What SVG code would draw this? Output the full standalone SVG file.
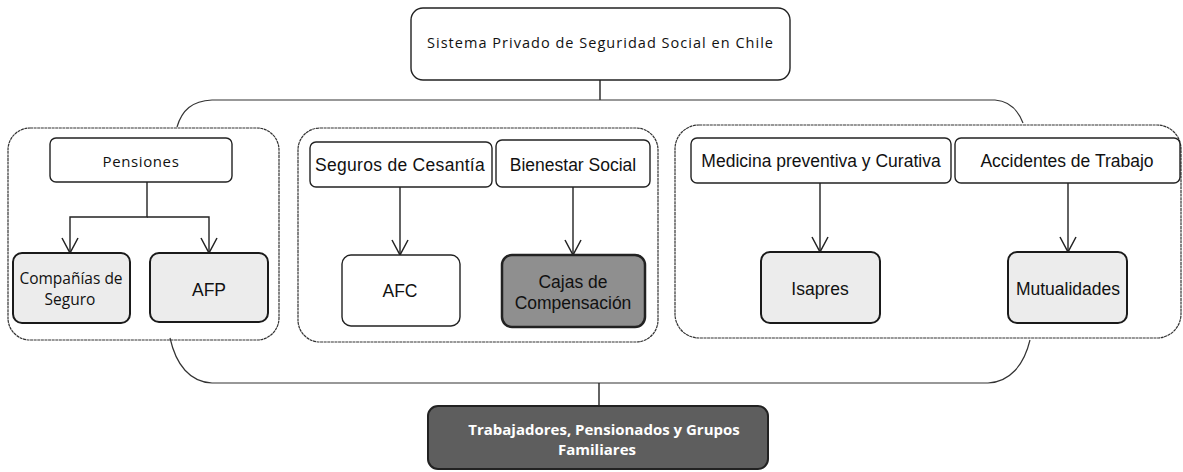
<svg xmlns="http://www.w3.org/2000/svg" width="1183" height="472" viewBox="0 0 1183 472">
<defs>
<style>
.box{fill:#fff;stroke:#222;stroke-width:1.4}
.grp{fill:#fff;stroke:#333;stroke-width:1.2;stroke-dasharray:3 0.6}
.leaf{fill:#ececec;stroke:#1a1a1a;stroke-width:2}
.dark{fill:#8f8f8f;stroke:#222;stroke-width:2.5}
.bot{fill:#5e5e5e;stroke:#222;stroke-width:2}
.ar{font-family:"Liberation Sans",Arial,sans-serif;font-size:17.5px;fill:#111;text-anchor:middle}
.ca{font-family:"Open Sans","Noto Sans",sans-serif;fill:#111;text-anchor:middle}
.wt{font-family:"Open Sans","Noto Sans",sans-serif;font-weight:bold;font-size:15px;fill:#fff;text-anchor:middle}
.ln{fill:none;stroke:#222;stroke-width:1.4}
.br{fill:none;stroke:#333;stroke-width:1.2}
</style>
<marker id="arr" viewBox="0 0 17 18" refX="16" refY="9" markerWidth="17" markerHeight="18" markerUnits="userSpaceOnUse" orient="auto">
<path d="M1,1 L16,9 L1,17" fill="none" stroke="#222" stroke-width="1.5"/>
</marker>
</defs>

<g id="groups">
<rect id="grp-left" class="grp" x="8" y="128" width="271" height="212" rx="22"/>
<rect id="grp-mid" class="grp" x="298" y="128" width="360" height="214" rx="22"/>
<rect id="grp-right" class="grp" x="675" y="125" width="506" height="213" rx="24"/>
</g>

<g id="connectors">
<path class="ln" d="M600,80 V100"/>
<path class="br" d="M177,127 C182,110 192,101 212,100 H995 C1010,101 1018,110 1023,123"/>
<path class="br" d="M170,338 C176,365 190,382 212,383 H988 C1010,382 1024,365 1030,340"/>
<path class="ln" d="M599,383 V406"/>
<path class="ln" d="M147,182 V217 H70 V253" marker-end="url(#arr)"/>
<path class="ln" d="M147,217 H209 V253" marker-end="url(#arr)"/>
<path class="ln" d="M400,187 V255" marker-end="url(#arr)"/>
<path class="ln" d="M573,187 V255" marker-end="url(#arr)"/>
<path class="ln" d="M820,183 V252" marker-end="url(#arr)"/>
<path class="ln" d="M1068,183 V252" marker-end="url(#arr)"/>
</g>

<g id="node-sistema">
<rect class="box" x="411" y="8" width="379" height="72" rx="12"/>
<text class="ca" x="600" y="48" font-size="14.5" textLength="346" lengthAdjust="spacing">Sistema Privado de Seguridad Social en Chile</text>
</g>

<g id="node-pensiones">
<rect class="box" x="50" y="138" width="182" height="44" rx="6"/>
<text class="ca" x="141" y="167" font-size="15" letter-spacing="0.6">Pensiones</text>
</g>

<g id="node-companias">
<rect class="leaf" x="13" y="253" width="117" height="70" rx="9"/>
<text class="ca" x="71" y="284" font-size="15.5">Compañías de</text>
<text class="ca" x="70" y="305" font-size="15.5">Seguro</text>
</g>

<g id="node-afp">
<rect class="leaf" x="150" y="253" width="118" height="69" rx="9"/>
<text class="ar" x="209" y="296">AFP</text>
</g>

<g id="node-cesantia">
<rect class="box" x="310" y="142" width="182" height="45" rx="6"/>
<text class="ar" x="400" y="171" letter-spacing="0.3">Seguros de Cesantía</text>
</g>

<g id="node-bienestar">
<rect class="box" x="496" y="140" width="154" height="47" rx="6"/>
<text class="ar" x="573" y="171">Bienestar Social</text>
</g>

<g id="node-afc">
<rect class="box" x="342" y="255" width="118" height="71" rx="9"/>
<text class="ar" x="400" y="297">AFC</text>
</g>

<g id="node-cajas">
<rect class="dark" x="502" y="255" width="143" height="72" rx="10"/>
<text class="ar" x="573" y="288">Cajas de</text>
<text class="ar" x="573" y="309">Compensación</text>
</g>

<g id="node-medicina">
<rect class="box" x="691" y="138" width="260" height="45" rx="6"/>
<text class="ar" x="821" y="167">Medicina preventiva y Curativa</text>
</g>

<g id="node-accidentes">
<rect class="box" x="955" y="138" width="225" height="45" rx="6"/>
<text class="ar" x="1067" y="167">Accidentes de Trabajo</text>
</g>

<g id="node-isapres">
<rect class="leaf" x="761" y="252" width="119" height="71" rx="9"/>
<text class="ar" x="820" y="295">Isapres</text>
</g>

<g id="node-mutualidades">
<rect class="leaf" x="1008" y="252" width="119" height="71" rx="9"/>
<text class="ar" x="1068" y="295">Mutualidades</text>
</g>

<g id="node-trabajadores">
<rect class="bot" x="428" y="406" width="340" height="63" rx="10"/>
<text class="wt" x="604" y="435">Trabajadores, Pensionados y Grupos</text>
<text class="wt" x="597" y="455">Familiares</text>
</g>
</svg>
